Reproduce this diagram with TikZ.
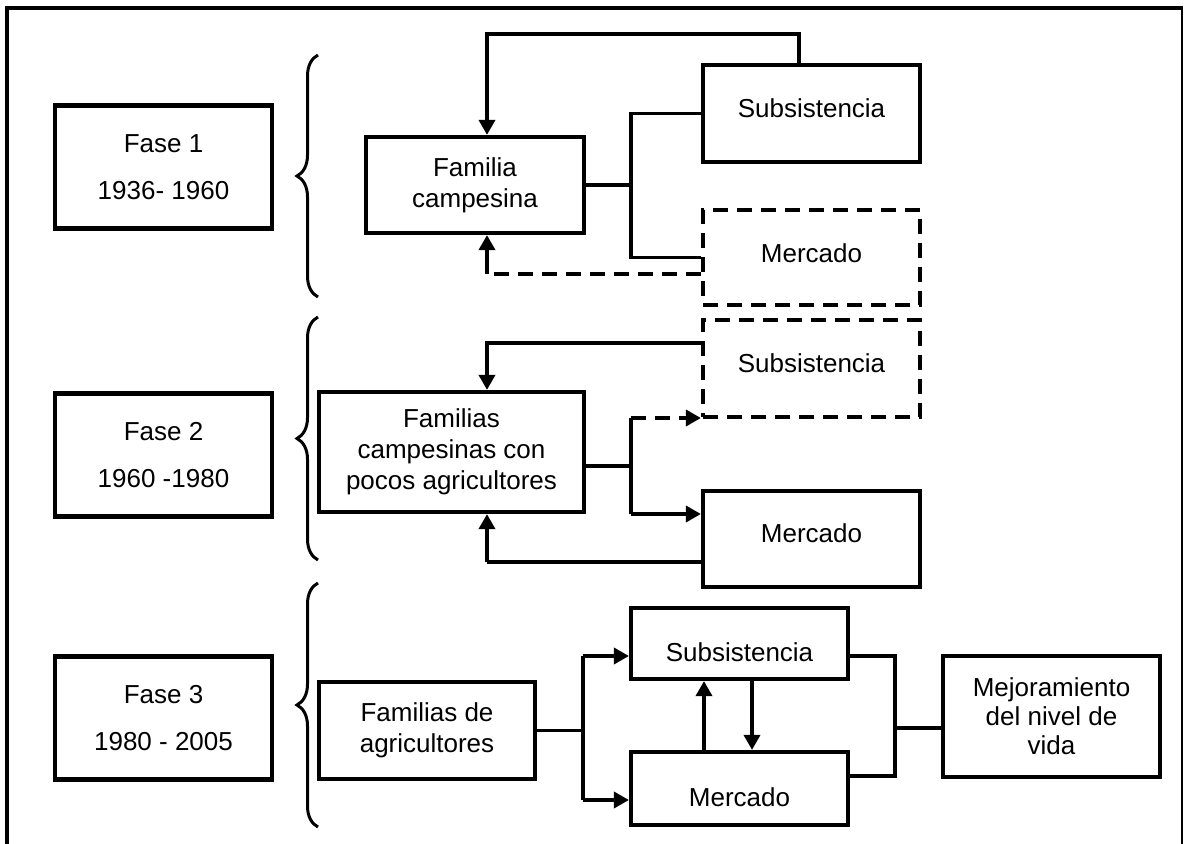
\documentclass[tikz,border=0pt]{standalone}
\usepackage{fontspec}
\setmainfont{Liberation Sans}
\usetikzlibrary{arrows.meta,decorations.pathreplacing}
\newcommand{\vsh}[2]{\raisebox{#1}[0pt][0pt]{#2}}
\begin{document}
\begin{tikzpicture}[x=0.5pt,y=-0.5pt,
  box/.style={draw,line width=2.1pt,inner sep=0pt,align=center,font=\fontsize{13}{15.5}\selectfont},
  dbox/.style={box,dash pattern=on 7.5pt off 4.5pt},
  fase/.style={box,font=\fontsize{13}{23.5}\selectfont,minimum width=108.5pt,minimum height=61.5pt},
  conn/.style={line width=1.8pt},
  arr/.style={conn,-{Triangle[length=7.5pt,width=8pt]}},
  dconn/.style={conn,dash pattern=on 7.5pt off 4.5pt},
  darr/.style={dconn,-{Triangle[length=7.5pt,width=8pt]}},
  brc/.style={line width=1.5pt,decorate,decoration={brace,amplitude=10.5pt}}]
\useasboundingbox (0,0) rectangle (1184,844);

% outer frame
\draw[line width=2.2pt] (7,844) -- (7,8) -- (1183,8);
\draw[line width=1.2pt] (1182,8) -- (1182,844);

% phase boxes
\node[fase] (f1) at (163.5,167) {Fase 1\\1936- 1960};
\node[fase] (f2) at (163.5,455) {Fase 2\\1960 -1980};
\node[fase] (f3) at (163.5,718) {Fase 3\\1980 - 2005};

% braces
\draw[brc] (318,297) -- (318,55);
\draw[brc] (318,560) -- (318,317);
\draw[brc] (318,827) -- (318,583);

% ---------- phase 1
\node[box,minimum width=109pt,minimum height=48pt] (fam1) at (475,185) {Familia\\campesina};
\node[box,minimum width=108.5pt,minimum height=48.5pt] (sub1) at (811.5,113.5) {\vsh{-2pt}{Subsistencia}};
\node[dbox,minimum width=108.5pt,minimum height=47.5pt] (mer1) at (811.5,257.5) {\vsh{-2.4pt}{Mercado}};

\coordinate (t1a) at (799,34);
\coordinate (t1b) at (487,34);
\draw[arr] (sub1.north -| t1a) -- (t1a) -- (t1b) -- (fam1.north -| t1b);

\coordinate (j1) at (631,0);
\draw[conn] (fam1.east) -- (fam1.east -| j1);
\draw[conn] (sub1.west) -- (sub1.west -| j1) -- (mer1.west -| j1) -- (mer1.west);

\coordinate (r1) at (487,274);
\draw[dconn] (mer1.west |- r1) -- (r1);
\draw[arr] (r1) -- (fam1.south -| r1);

% ---------- phase 2
\node[box,minimum width=132.5pt,minimum height=60pt] (fam2) at (451.5,452) {Familias\\campesinas con\\pocos agricultores};
\node[dbox,minimum width=108.5pt,minimum height=48.5pt] (sub2) at (811.5,368.5) {\vsh{-1.9pt}{Subsistencia}};
\node[box,minimum width=108.5pt,minimum height=48pt] (mer2) at (811.5,539) {\vsh{-1.7pt}{Mercado}};

\coordinate (t2) at (487,343);
\draw[arr] (sub2.west |- t2) -- (t2) -- (fam2.north -| t2);

\coordinate (j2) at (631,466);
\coordinate (j2t) at (631,418);
\coordinate (j2b) at (631,514);
\draw[conn] (fam2.east |- j2) -- (j2);
\draw[conn] (j2t) -- (j2b);
\draw[darr] (j2t) -- (sub2.west |- j2t);
\draw[arr] (j2b) -- (mer2.west |- j2b);

\coordinate (r2) at (487,562);
\draw[conn] (mer2.west |- r2) -- (r2);
\draw[arr] (r2) -- (fam2.south -| r2);

% ---------- phase 3
\node[box,minimum width=108pt,minimum height=48.5pt] (fam3) at (427,730.5) {Familias de\\agricultores};
\node[box,minimum width=108.5pt,minimum height=35.5pt] (sub3) at (739.5,643.5) {\vsh{-8.9pt}{Subsistencia}};
\node[box,minimum width=108.5pt,minimum height=36.5pt] (mer3) at (739.5,788.5) {\vsh{-8.9pt}{Mercado}};
\node[box,minimum width=108.5pt,minimum height=60.5pt,font=\fontsize{13}{14.5}\selectfont] (mej) at (1051.5,716.5) {Mejoramiento\\del nivel de\\vida};

\coordinate (k1) at (583,656);
\coordinate (k2) at (583,800);
\draw[conn] (fam3.east) -- (fam3.east -| k1);
\draw[conn] (k1) -- (k2);
\draw[arr] (k1) -- (sub3.west |- k1);
\draw[arr] (k2) -- (mer3.west |- k2);

\coordinate (u) at (704,0);
\coordinate (d) at (752,0);
\draw[arr] (mer3.north -| u) -- (sub3.south -| u);
\draw[arr] (sub3.south -| d) -- (mer3.north -| d);

\coordinate (m1) at (895,656);
\coordinate (m2) at (895,776);
\coordinate (m3) at (895,728);
\draw[conn] (sub3.east |- m1) -- (m1) -- (m2) -- (mer3.east |- m2);
\draw[conn] (m3) -- (mej.west |- m3);
\end{tikzpicture}
\end{document}
